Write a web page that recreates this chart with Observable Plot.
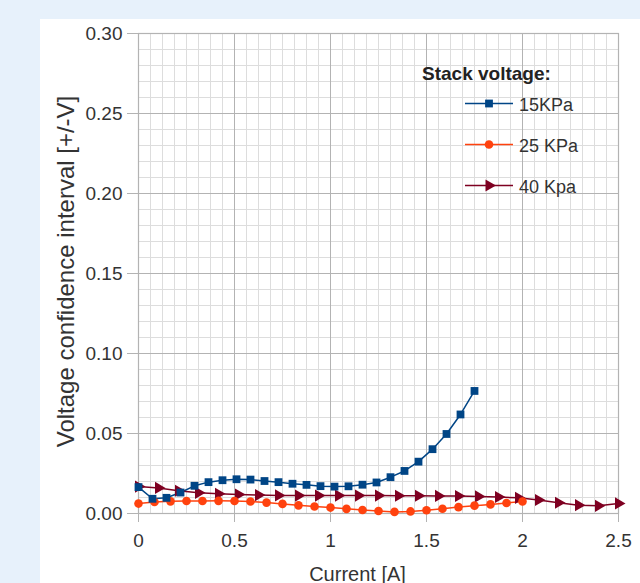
<!DOCTYPE html>
<html>
<head>
<meta charset="utf-8">
<script src="https://cdn.jsdelivr.net/npm/d3@7"></script>
<script src="https://cdn.jsdelivr.net/npm/@observablehq/plot@0.6"></script>
<style>
  html, body { margin: 0; padding: 0; }
  body { width: 640px; height: 583px; overflow: hidden; background: #e7f1fb; position: relative; font-family: "Liberation Sans", Arial, sans-serif; }
  #panel { position: absolute; left: 40px; top: 19px; width: 600px; height: 564px; background: #ffffff; }
  #chart { position: absolute; left: 0; top: 0; }
  #legend { position: absolute; left: 0; top: 0; }
</style>
</head>
<body>
<div id="panel"></div>
<div id="chart"></div>
<svg id="legend" width="640" height="583"></svg>
<script>
// ---- data ----
const seriesNames = ["15KPa", "25 KPa", "40 Kpa"];
const seriesColors = ["#004586", "#ff420e", "#7e0021"];
const legendTitle = "Stack voltage:";
const xLabel = "Current [A]";
const yLabel = "Voltage confidence interval [+/-V]";

const current15 = [0, 0.0729, 0.1458, 0.2188, 0.2917, 0.3646, 0.4375, 0.5104, 0.5833, 0.6563, 0.7292, 0.8021, 0.875, 0.9479, 1.0208, 1.0938, 1.1667, 1.2396, 1.3125, 1.3854, 1.4583, 1.5313, 1.6042, 1.6771, 1.75];
const volt15 = [0.0165, 0.0092, 0.0098, 0.0131, 0.0173, 0.0196, 0.0208, 0.0214, 0.0212, 0.0203, 0.0196, 0.0186, 0.0179, 0.0171, 0.0168, 0.0170, 0.0180, 0.0194, 0.0227, 0.0266, 0.0324, 0.0402, 0.0497, 0.0619, 0.0766];

const current25 = [0, 0.0833, 0.1667, 0.25, 0.3333, 0.4167, 0.5, 0.5833, 0.6667, 0.75, 0.8333, 0.9167, 1.0, 1.0833, 1.1667, 1.25, 1.3333, 1.4167, 1.5, 1.5833, 1.6667, 1.75, 1.8333, 1.9167, 2.0];
const volt25 = [0.0062, 0.0072, 0.0076, 0.0078, 0.0078, 0.0079, 0.0078, 0.0075, 0.0068, 0.0060, 0.0051, 0.0044, 0.0037, 0.0029, 0.0022, 0.0016, 0.0010, 0.0013, 0.0020, 0.0030, 0.0040, 0.0049, 0.0057, 0.0066, 0.0075];

const current40 = [0, 0.1042, 0.2083, 0.3125, 0.4167, 0.5208, 0.625, 0.7292, 0.8333, 0.9375, 1.0417, 1.1458, 1.25, 1.3542, 1.4583, 1.5625, 1.6667, 1.7708, 1.875, 1.9792, 2.0833, 2.1875, 2.2917, 2.3958, 2.5];
const volt40 = [0.0168, 0.0160, 0.0142, 0.0129, 0.0123, 0.0119, 0.0115, 0.0113, 0.0112, 0.0112, 0.0112, 0.0112, 0.0112, 0.0111, 0.0111, 0.0110, 0.0109, 0.0107, 0.0103, 0.0098, 0.0084, 0.0067, 0.0052, 0.0048, 0.0063];

const xTicks = [0, 0.5, 1, 1.5, 2, 2.5];
const xTickLabels = ["0", "0.5", "1", "1.5", "2", "2.5"];
const yTicks = [0, 0.05, 0.10, 0.15, 0.20, 0.25, 0.30];
const yTickLabels = ["0.00", "0.05", "0.10", "0.15", "0.20", "0.25", "0.30"];

// ---- build ----
const rows = (xs, ys, s) => xs.map((x, i) => ({ x, y: ys[i], s }));
const d15 = rows(current15, volt15, seriesNames[0]);
const d25 = rows(current25, volt25, seriesNames[1]);
const d40 = rows(current40, volt40, seriesNames[2]);

const minorX = d3.range(0, 2.5001, 0.0625);
const minorY = d3.range(0, 0.3001, 0.01);
const font = "'Liberation Sans', Arial, sans-serif";
const textColor = "#333333";
const gridMajor = "#b3b3b3";
const gridMinor = "#dddddd";

const chart = Plot.plot({
  width: 640,
  height: 583,
  marginLeft: 138,
  marginRight: 22,
  marginTop: 33,
  marginBottom: 70,
  x: { domain: [0, 2.5] },
  y: { domain: [0, 0.30] },
  style: { fontFamily: font, fontSize: "19px", background: "transparent", color: textColor, overflow: "visible" },
  marks: [
    Plot.gridX(minorX, { stroke: gridMinor, strokeOpacity: 1 }),
    Plot.gridY(minorY, { stroke: gridMinor, strokeOpacity: 1 }),
    Plot.gridX(xTicks, { stroke: gridMajor, strokeOpacity: 1 }),
    Plot.gridY(yTicks, { stroke: gridMajor, strokeOpacity: 1 }),
    Plot.frame({ stroke: gridMajor, strokeWidth: 1.2 }),
    Plot.axisX(xTicks, { tickSize: 9, tickPadding: 11, stroke: gridMajor, fill: textColor, tickFormat: (d, i) => xTickLabels[i], label: null }),
    Plot.axisY(yTicks, { tickSize: 11, tickPadding: 5, stroke: gridMajor, fill: textColor, tickFormat: (d, i) => yTickLabels[i], label: null }),
    Plot.text([xLabel], { frameAnchor: "bottom", textAnchor: "middle", dx: -21, dy: 67, fontSize: 20, fill: textColor }),
    Plot.text([yLabel], { frameAnchor: "left", textAnchor: "middle", dx: -72, dy: -2, rotate: -90, fontSize: 24, fill: textColor }),
    Plot.line(d40, { x: "x", y: "y", stroke: seriesColors[2], strokeWidth: 1.5 }),
    Plot.line(d25, { x: "x", y: "y", stroke: seriesColors[1], strokeWidth: 1.5 }),
    Plot.line(d15, { x: "x", y: "y", stroke: seriesColors[0], strokeWidth: 1.5 }),
    Plot.dot(d40, { x: "x", y: "y", symbol: "triangle", rotate: 90, r: 4.5, fill: seriesColors[2], stroke: "none" }),
    Plot.dot(d25, { x: "x", y: "y", symbol: "circle", r: 4.3, fill: seriesColors[1], stroke: "none" }),
    Plot.dot(d15, { x: "x", y: "y", symbol: "square", r: 4.4, fill: seriesColors[0], stroke: "none" })
  ]
});
document.getElementById("chart").appendChild(chart);

// ---- legend ----
const lg = d3.select("#legend");
lg.append("text").attr("x", 422).attr("y", 80).attr("font-family", font).attr("font-weight", "bold")
  .attr("font-size", 19).attr("fill", "#222").text(legendTitle);
const symbols = [d3.symbolSquare, d3.symbolCircle, d3.symbolTriangle];
const sizes = [4.4, 4.3, 4.5];
const rots = [0, 0, 90];
seriesNames.forEach((name, i) => {
  const y = 103.5 + i * 41;
  lg.append("line").attr("x1", 465).attr("x2", 513).attr("y1", y).attr("y2", y)
    .attr("stroke", seriesColors[i]).attr("stroke-width", 1.5);
  lg.append("path").attr("d", d3.symbol(symbols[i], Math.PI * sizes[i] * sizes[i])())
    .attr("transform", `translate(489,${y}) rotate(${rots[i]})`).attr("fill", seriesColors[i]);
  lg.append("text").attr("x", 519).attr("y", y + 7).attr("font-family", font)
    .attr("font-size", 18).attr("fill", textColor).text(name);
});
</script>
</body>
</html>
